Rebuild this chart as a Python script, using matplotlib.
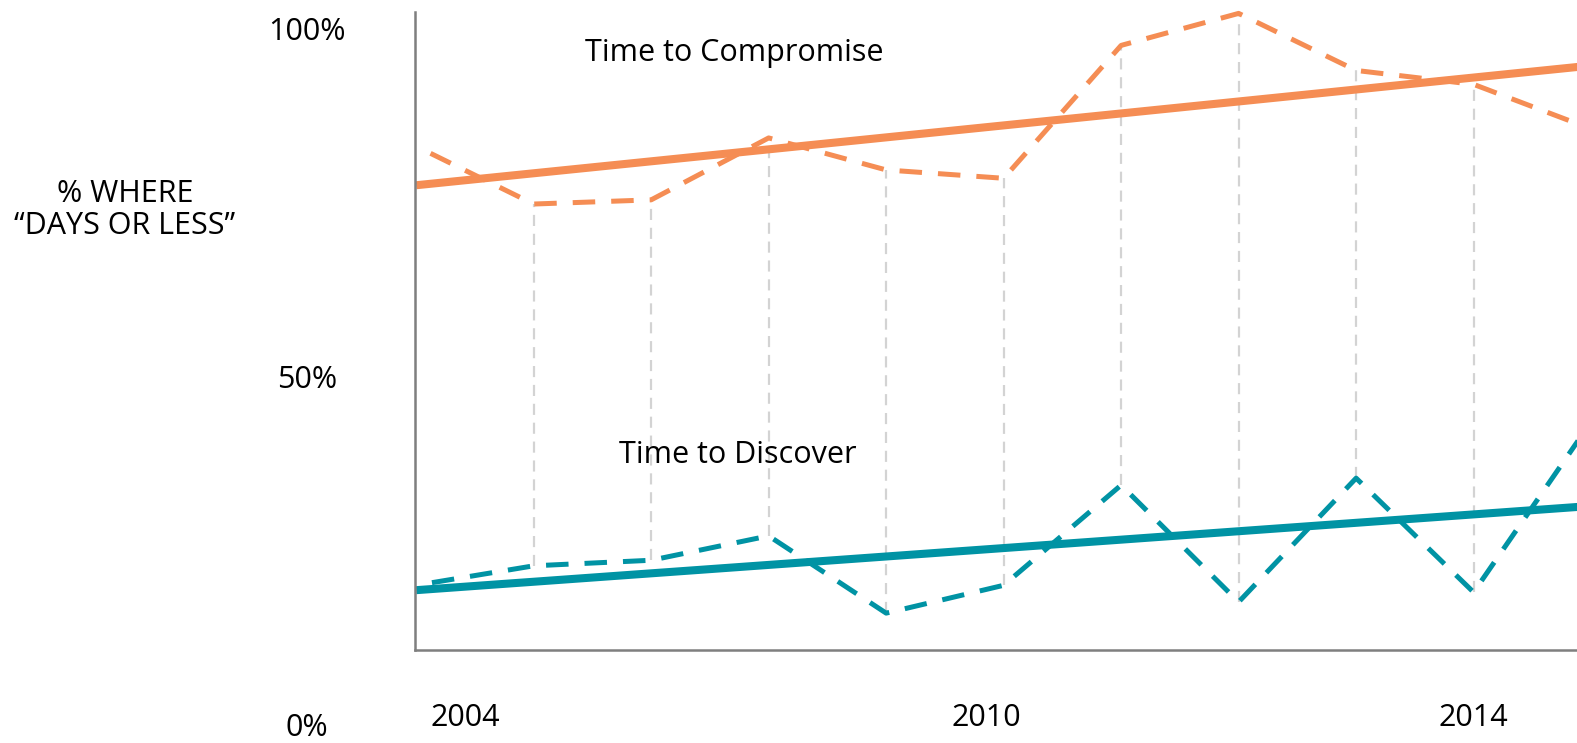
import matplotlib
matplotlib.use('Agg')

import matplotlib.pyplot as plt


# yearly points (the last one falls past the right edge of the picture)
years = [2004, 2005, 2006, 2007, 2008, 2009, 2010, 2011, 2012, 2013, 2014]
compromise = [83.6, 75.3, 75.9, 84.8, 80.2, 79.0, 98.1, 102.7, 94.5, 92.5, 86.1]
discover = [20.5, 23.3, 24.1, 27.6, 16.5, 20.5, 34.9, 18.1, 35.9, 19.5, 44.0]

# straight trend lines, start and end values
trend_years = [2004, 2014]
compromise_trend = [78.0, 95.2]
discover_trend = [19.8, 31.9]

year_labels = ['2004', '2010', '2014']
year_label_pos = [2004.42, 2008.85, 2013.0]
pct_labels = ['100%', '50%', '0%']
pct_values = [100, 50, 0]

ORANGE = '#F58D54'
TEAL = '#0093A4'
FONT = 'Open Sans'
FS = 22

plt.rcParams['font.family'] = [FONT, 'DejaVu Sans']

fig = plt.figure(figsize=(15.77, 7.43), dpi=100)
ax = fig.add_axes([415 / 1577, 93 / 743, 1162 / 1577, 638 / 743])

# gray dashed drop lines between the two series
for x, top, bottom in zip(years[1:], compromise[1:], discover[1:]):
    ax.plot([x, x], [bottom, top], color='#d3d3d3', lw=1.6, ls=(0, (5, 3.5)), zorder=1)

ax.plot(trend_years, compromise_trend, color=ORANGE, lw=5.8, solid_capstyle='butt', zorder=2)
ax.plot(trend_years, discover_trend, color=TEAL, lw=5.8, solid_capstyle='butt', zorder=2)
# pattern offset so the dashes start with a gap, like the reference
ax.plot(years, compromise, color=ORANGE, lw=3.6, ls=(4.5, (4.5, 3.2)), clip_on=False, zorder=3)
ax.plot(years, discover, color=TEAL, lw=3.6, ls=(4.5, (4.5, 3.2)), clip_on=False, zorder=3)

ax.set_xlim(2003.99, 2013.88)
ax.set_ylim(11.2, 102.9)

for s in ['top', 'right']:
    ax.spines[s].set_visible(False)
for s in ['left', 'bottom']:
    ax.spines[s].set_color('#7f7f7f')
    ax.spines[s].set_linewidth(1.8)
ax.set_xticks([])
ax.set_yticks([])

ax.text(2006.71, 97.0, 'Time to Compromise', fontsize=FS, ha='center', va='center')
ax.text(2006.74, 39.2, 'Time to Discover', fontsize=FS, ha='center', va='center')

for lab, v in zip(pct_labels, pct_values):
    ax.text(-0.0929, v, lab, fontsize=FS, ha='center', va='center',
            transform=ax.get_yaxis_transform(), clip_on=False)
for lab, x in zip(year_labels, year_label_pos):
    ax.text(x, -0.1066, lab, fontsize=FS, ha='center', va='center',
            transform=ax.get_xaxis_transform(), clip_on=False)

fig.text(125 / 1577, 1 - 210 / 743, '% WHERE\n\u201cDAYS OR LESS\u201d', fontsize=FS,
         ha='center', va='center', linespacing=1.05)

fig.savefig('out.png', dpi=100)
plt.close()
